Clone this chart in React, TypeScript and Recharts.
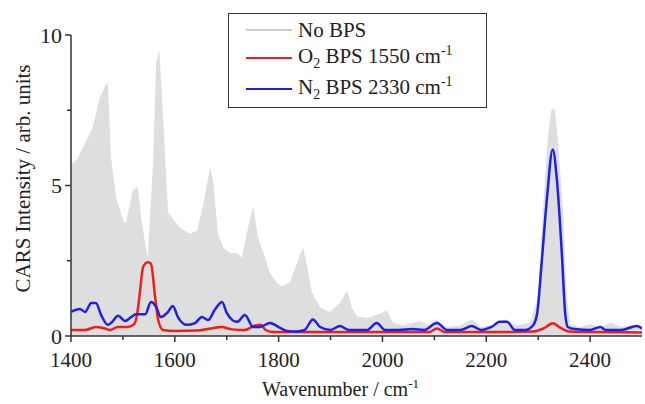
import { ComposedChart, Area, Line, XAxis, YAxis } from 'recharts'

// No BPS spectrum (grey filled)
const greyWavenumber = [
  1400, 1404, 1413, 1427, 1442, 1456, 1467, 1471, 1477, 1487, 1500, 1506, 1519, 1529, 1535, 1544, 1548,
  1558, 1564, 1570, 1577, 1587, 1596, 1610, 1629, 1643, 1654, 1668, 1674, 1683, 1693, 1706, 1720, 1729,
  1741, 1751, 1760, 1774, 1783, 1797, 1808, 1822, 1835, 1847, 1855, 1864, 1880, 1899, 1918, 1932, 1941,
  1951, 1970, 1989, 2009, 2020, 2040, 2059, 2072, 2090, 2105, 2120, 2150, 2172, 2190, 2210, 2235, 2260,
  2285, 2300, 2309, 2318, 2325, 2332, 2338, 2348, 2355, 2362, 2380, 2400, 2420, 2440, 2460, 2480, 2500
]
const greyIntensity = [
  5.7, 5.75, 5.9, 6.4, 6.95, 7.95, 8.35, 8.4, 5.95, 4.6, 3.85, 3.75, 4.85, 4.95, 3.95, 2.95, 2.6,
  5.75, 9.05, 9.5, 7.4, 4.1, 3.9, 3.6, 3.4, 3.5, 4.3, 5.6, 5.1, 3.4, 2.95, 2.75, 2.75, 2.6,
  3.6, 4.3, 3.3, 2.6, 2.1, 1.75, 1.65, 1.8, 2.4, 2.95, 2.3, 1.45, 0.95, 0.8, 1.1, 1.5, 0.95,
  0.65, 0.6, 0.7, 0.85, 0.45, 0.35, 0.45, 0.5, 0.35, 0.55, 0.3, 0.35, 0.55, 0.3, 0.35, 0.55, 0.35,
  0.45, 1.3, 4.1, 6.5, 7.5, 7.55, 6.5, 4.1, 1.3, 0.4, 0.3, 0.4, 0.3, 0.45, 0.3, 0.35, 0.3
]

// O2 BPS 1550 cm-1 (red)
const redWavenumber = [
  1400, 1427, 1448, 1465, 1475, 1490, 1510, 1522, 1528, 1533, 1539, 1548, 1554, 1562, 1568, 1577,
  1600, 1640, 1670, 1690, 1710, 1735, 1755, 1765, 1775, 1790, 1850, 1950, 2050, 2090, 2105, 2120,
  2200, 2290, 2310, 2328, 2345, 2360, 2420, 2500
]
const redIntensity = [
  0.2, 0.2, 0.3, 0.25, 0.2, 0.3, 0.3, 0.4, 0.8, 1.5, 2.3, 2.45, 2.4, 1.3, 0.53, 0.2,
  0.17, 0.18, 0.25, 0.3, 0.22, 0.2, 0.35, 0.37, 0.2, 0.13, 0.13, 0.13, 0.13, 0.13, 0.25, 0.13,
  0.13, 0.15, 0.25, 0.42, 0.25, 0.15, 0.13, 0.12
]

// N2 BPS 2330 cm-1 (blue)
const blueWavenumber = [
  1400, 1417, 1427, 1439, 1448, 1458, 1471, 1477, 1491, 1504, 1516, 1525, 1543, 1554, 1564, 1573,
  1587, 1596, 1606, 1623, 1639, 1652, 1664, 1677, 1691, 1700, 1720, 1735, 1751, 1764, 1783, 1803,
  1816, 1835, 1850, 1866, 1880, 1900, 1918, 1935, 1970, 1989, 2005, 2030, 2059, 2080, 2105, 2125,
  2150, 2172, 2190, 2210, 2226, 2240, 2255, 2275, 2290, 2298, 2307, 2317, 2328, 2336, 2346, 2352,
  2357, 2370, 2400, 2420, 2430, 2460, 2490, 2500
]
const blueIntensity = [
  0.8, 0.9, 0.8, 1.1, 1.1, 0.7, 0.37, 0.43, 0.67, 0.5, 0.63, 0.72, 0.72, 1.13, 0.97, 0.63,
  0.8, 1.0, 0.63, 0.37, 0.43, 0.63, 0.53, 0.87, 1.13, 0.77, 0.47, 0.7, 0.3, 0.3, 0.43, 0.27,
  0.17, 0.15, 0.2, 0.55, 0.3, 0.2, 0.33, 0.2, 0.2, 0.43, 0.2, 0.2, 0.23, 0.2, 0.43, 0.2,
  0.2, 0.33, 0.2, 0.3, 0.47, 0.47, 0.2, 0.2, 0.35, 0.75, 2.5, 4.6, 6.2, 5.2, 2.6, 0.75,
  0.3, 0.23, 0.2, 0.3, 0.2, 0.2, 0.33, 0.25
]

const xTicks = [1400, 1500, 1600, 1700, 1800, 1900, 2000, 2100, 2200, 2300, 2400]
const yTicks = [0, 2.5, 5, 7.5, 10]

const toPoints = (xs: number[], ys: number[]) => xs.map((x, i) => ({ x, y: ys[i] }))
const greyData = toPoints(greyWavenumber, greyIntensity)
const redData = toPoints(redWavenumber, redIntensity)
const blueData = toPoints(blueWavenumber, blueIntensity)

const FONT = '"Liberation Serif", "Times New Roman", serif'
const AXIS = '#333'
const GREY = '#dedede'
const RED = '#f21c1c'
const BLUE = '#1f1fe6'

const XTick = (props: any) => {
  const { x, y, payload } = props
  const major = payload.value % 200 === 0
  return (
    <g>
      <line x1={x} x2={x} y1={y} y2={y + (major ? 6 : 4)} stroke={AXIS} strokeWidth={1.5} />
      {major && (
        <text x={x} y={y + 31} textAnchor="middle" fontFamily={FONT} fontSize={21} fill="#222">
          {payload.value}
        </text>
      )}
    </g>
  )
}

const YTick = (props: any) => {
  const { x, y, payload } = props
  const major = payload.value % 5 === 0
  return (
    <g>
      <line x1={x - (major ? 6 : 4)} x2={x} y1={y} y2={y} stroke={AXIS} strokeWidth={1.5} />
      {major && (
        <text x={x - 9} y={y} textAnchor="end" dominantBaseline="central" fontFamily={FONT} fontSize={22} fill="#222">
          {payload.value}
        </text>
      )}
    </g>
  )
}

const YLabel = (props: any) => {
  const { viewBox } = props
  const cx = viewBox.x + 23
  const cy = viewBox.y + viewBox.height / 2 - 7
  return (
    <text
      x={cx}
      y={cy}
      transform={`rotate(-90, ${cx}, ${cy})`}
      textAnchor="middle"
      dominantBaseline="central"
      fontFamily={FONT}
      fontSize={21}
      fill="#222"
    >
      CARS Intensity / arb. units
    </text>
  )
}

const XLabel = (props: any) => {
  const { viewBox } = props
  const cx = viewBox.x + viewBox.width / 2 - 16
  return (
    <text x={cx} y={viewBox.y + 60} textAnchor="middle" fontFamily={FONT} fontSize={20} fill="#222">
      Wavenumber / cm<tspan dy={-8} fontSize={13}>-1</tspan>
    </text>
  )
}

const legendItems = [
  { color: '#cccccc', label: <>No BPS</> },
  { color: RED, label: <>O<sub style={{ fontSize: 14 }}>2</sub> BPS 1550 cm<sup style={{ fontSize: 14 }}>-1</sup></> },
  { color: BLUE, label: <>N<sub style={{ fontSize: 14 }}>2</sub> BPS 2330 cm<sup style={{ fontSize: 14 }}>-1</sup></> }
]

export default function App() {
  return (
    <div style={{ position: 'absolute', left: 0, top: 0, width: 645, height: 404 }}>
      <ComposedChart width={645} height={404} margin={{ top: 35, right: 3, left: 0, bottom: 0 }}>
        <XAxis
          dataKey="x"
          type="number"
          domain={[1400, 2500]}
          ticks={xTicks}
          allowDataOverflow
          height={68}
          tickSize={0}
          tickMargin={0}
          tick={<XTick />}
          tickLine={false}
          axisLine={{ stroke: AXIS, strokeWidth: 1.5 }}
          label={<XLabel />}
        />
        <YAxis
          type="number"
          domain={[0, 10]}
          ticks={yTicks}
          width={71}
          tickSize={0}
          tickMargin={0}
          tick={<YTick />}
          tickLine={false}
          axisLine={{ stroke: AXIS, strokeWidth: 1.5 }}
          label={<YLabel />}
        />
        <Area
          data={greyData}
          dataKey="y"
          type="linear"
          stroke="none"
          fill={GREY}
          fillOpacity={1}
          isAnimationActive={false}
        />
        <Line
          data={redData}
          dataKey="y"
          type="monotone"
          stroke={RED}
          strokeWidth={2.5}
          dot={false}
          isAnimationActive={false}
        />
        <Line
          data={blueData}
          dataKey="y"
          type="monotone"
          stroke={BLUE}
          strokeWidth={2.5}
          dot={false}
          isAnimationActive={false}
        />
      </ComposedChart>
      <div
        style={{
          position: 'absolute',
          left: 228,
          top: 13,
          width: 259,
          height: 95,
          boxSizing: 'border-box',
          border: `1.5px solid ${AXIS}`,
          background: '#fff',
          fontFamily: FONT,
          fontSize: 21,
          color: '#222'
        }}
      >
        {legendItems.map((item, i) => (
          <div
            key={i}
            style={{
              position: 'absolute',
              left: 17,
              top: [4, 32, 63][i],
              height: 24,
              display: 'flex',
              alignItems: 'center',
              whiteSpace: 'nowrap',
              lineHeight: '24px'
            }}
          >
            <span style={{ display: 'inline-block', width: 46, height: 2.5, background: item.color, marginRight: 6 }} />
            <span>{item.label}</span>
          </div>
        ))}
      </div>
    </div>
  )
}
